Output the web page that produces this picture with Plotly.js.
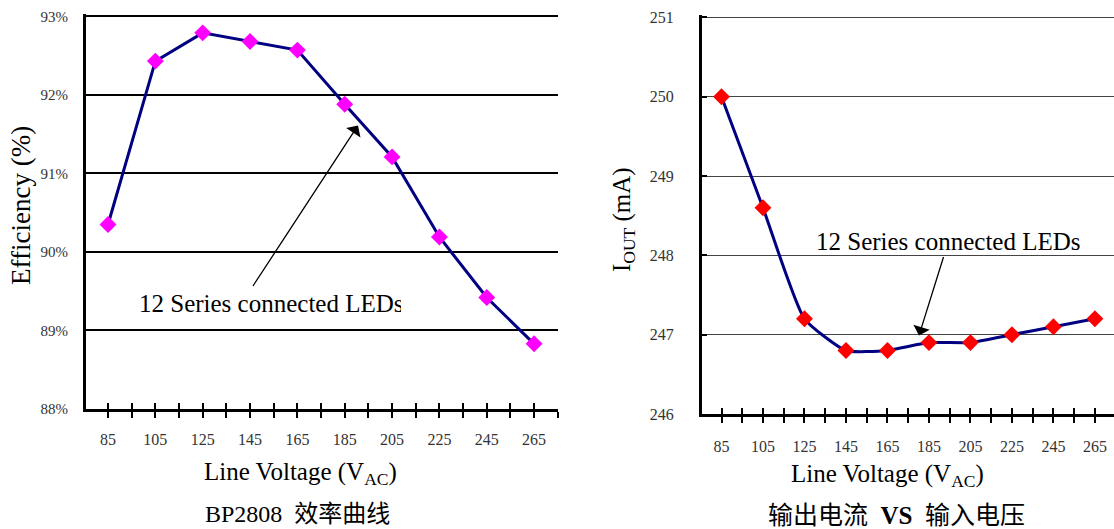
<!DOCTYPE html>
<html>
<head>
<meta charset="utf-8">
<script src="https://cdn.plot.ly/plotly-3.0.1.min.js"></script>
<style>html,body{margin:0;padding:0;background:#fff;}#chart{width:1114px;height:529px;}</style>
</head>
<body>
<div id="chart"></div>
<script>
// ---- data ----
const voltage = [85, 105, 125, 145, 165, 185, 205, 225, 245, 265];
const efficiency = [90.35, 92.43, 92.79, 92.68, 92.57, 91.88, 91.21, 90.19, 89.42, 88.83];
const ioutMA = [250.0, 248.6, 247.2, 246.8, 246.8, 246.9, 246.9, 247.0, 247.1, 247.2];
const xTickVals = [85, 105, 125, 145, 165, 185, 205, 225, 245, 265];
const xTickText = ['85', '105', '125', '145', '165', '185', '205', '225', '245', '265'];
const xMinorVals = [95, 115, 135, 155, 175, 195, 215, 235, 255, 275];
const effTickVals = [88, 89, 90, 91, 92, 93];
const effTickText = ['88%', '89%', '90%', '91%', '92%', '93%'];
const ioutTickVals = [246, 247, 248, 249, 250, 251];
const ioutTickText = ['246', '247', '248', '249', '250', '251'];
const annText = '12 Series connected LEDs';
const xTitle = 'Line Voltage (V<sub>AC</sub>)';
const yTitleLeft = 'Efficiency (%)';
const yTitleRight = 'I<sub>OUT</sub> (mA)';
const captionLeft = 'BP2808&nbsp; 效率曲线';
const captionRight = '输出电流&nbsp; <b>VS</b>&nbsp; 输入电压';

const W = 1114, H = 529;
const px = x => x / W;
const py = y => 1 - y / H;
const serif = 'Liberation Serif, Times New Roman, Noto Sans CJK SC, serif';
const tickFont = {family: serif, size: 16, color: '#333'};

const xRangeL = [75.7, 275.1];
const xRangeR = [75.6, 274.2];

const traces = [
  {x: voltage, y: efficiency, xaxis: 'x', yaxis: 'y', type: 'scatter', mode: 'lines+markers',
   line: {color: '#000080', width: 3},
   marker: {symbol: 'diamond', size: 13, color: '#FF00FF'}},
  {x: voltage, y: ioutMA, xaxis: 'x2', yaxis: 'y2', type: 'scatter', mode: 'lines+markers',
   line: {color: '#000080', width: 3, shape: 'spline', smoothing: 0.5},
   marker: {symbol: 'diamond', size: 13, color: '#FF0000'}},
  {x: [], y: [], xaxis: 'x3', yaxis: 'y', type: 'scatter', mode: 'markers'},
  {x: [], y: [], xaxis: 'x4', yaxis: 'y2', type: 'scatter', mode: 'markers'}
];

function xAxis(extra, inside) {
  const t = inside ? 'inside' : 'outside';
  return Object.assign({
    tickmode: 'array', tickvals: xTickVals, ticktext: xTickText,
    showline: !inside, linecolor: '#000', linewidth: 3,
    ticks: t, ticklen: 6, tickwidth: 2, tickcolor: '#000',
    minor: {tickmode: 'array', tickvals: xMinorVals, ticks: t, ticklen: 6, tickwidth: 2, tickcolor: '#000', showgrid: false},
    showticklabels: !inside,
    showgrid: false, zeroline: false, tickfont: tickFont, fixedrange: true
  }, extra);
}

const layout = {
  width: W, height: H,
  margin: {l: 0, r: 0, t: 0, b: 0},
  paper_bgcolor: '#fff', plot_bgcolor: '#fff',
  showlegend: false,
  xaxis: xAxis({domain: [px(86), px(558)], range: xRangeL, anchor: 'y', ticklabelstandoff: 8}, false),
  xaxis3: xAxis({domain: [px(86), px(558)], range: xRangeL, anchor: 'y', overlaying: 'x'}, true),
  yaxis: {domain: [py(409), py(14)], range: [88, 93.03], anchor: 'x',
    tickmode: 'array', tickvals: effTickVals, ticktext: effTickText,
    showline: true, linecolor: '#000', linewidth: 3,
    ticks: 'inside', ticklen: 5, tickwidth: 2, tickcolor: '#000',
    showgrid: true, gridcolor: '#000', gridwidth: 2, zeroline: false,
    tickfont: {family: serif, size: 15, color: '#333'}, ticklabelstandoff: 12, fixedrange: true},
  xaxis2: xAxis({domain: [px(702), 1], range: xRangeR, anchor: 'y2', ticklabelstandoff: 10}, false),
  xaxis4: xAxis({domain: [px(702), 1], range: xRangeR, anchor: 'y2', overlaying: 'x2'}, true),
  yaxis2: {domain: [py(414), py(15)], range: [246, 251.03], anchor: 'x2',
    tickmode: 'array', tickvals: ioutTickVals, ticktext: ioutTickText,
    showline: true, linecolor: '#000', linewidth: 3,
    ticks: 'inside', ticklen: 5, tickwidth: 2, tickcolor: '#000',
    showgrid: true, gridcolor: '#444', gridwidth: 1, zeroline: false,
    tickfont: {family: serif, size: 16, color: '#333'}, ticklabelstandoff: 22, fixedrange: true},
  annotations: [
    // left arrow + text
    {xref: 'x', yref: 'y', x: 190.6, y: 91.61, axref: 'pixel', ayref: 'pixel', ax: -106, ay: 162,
     showarrow: true, arrowhead: 1, arrowsize: 2.2, arrowwidth: 1.3, arrowcolor: '#000', text: ''},
    {xref: 'paper', yref: 'paper', x: px(137), y: py(303), xanchor: 'left', yanchor: 'middle',
     text: annText, showarrow: false, width: 262, align: 'left',
     font: {family: serif, size: 25, color: '#000'}},
    // right arrow + text
    {xref: 'x2', yref: 'y2', x: 180.2, y: 246.99, axref: 'pixel', ayref: 'pixel', ax: 25, ay: -80,
     showarrow: true, arrowhead: 1, arrowsize: 2.2, arrowwidth: 1.3, arrowcolor: '#000', text: ''},
    {xref: 'paper', yref: 'paper', x: px(814), y: py(241), xanchor: 'left', yanchor: 'middle',
     text: annText, showarrow: false, width: 264, align: 'left',
     font: {family: serif, size: 25, color: '#000'}},
    // axis titles
    {xref: 'paper', yref: 'paper', x: px(21), y: py(206), xanchor: 'center', yanchor: 'middle',
     text: yTitleLeft, textangle: -90, showarrow: false, font: {family: serif, size: 27, color: '#000'}},
    {xref: 'paper', yref: 'paper', x: px(623), y: py(220), xanchor: 'center', yanchor: 'middle',
     text: yTitleRight, textangle: -90, showarrow: false, font: {family: serif, size: 25, color: '#000'}},
    {xref: 'paper', yref: 'paper', x: px(300), y: py(473), xanchor: 'center', yanchor: 'middle',
     text: xTitle, showarrow: false, font: {family: serif, size: 25, color: '#000'}},
    {xref: 'paper', yref: 'paper', x: px(887), y: py(475), xanchor: 'center', yanchor: 'middle',
     text: xTitle, showarrow: false, font: {family: serif, size: 25, color: '#000'}},
    // captions
    {xref: 'paper', yref: 'paper', x: px(297), y: py(514), xanchor: 'center', yanchor: 'middle',
     text: captionLeft, showarrow: false, font: {family: serif, size: 24, color: '#000'}},
    {xref: 'paper', yref: 'paper', x: px(896), y: py(515), xanchor: 'center', yanchor: 'middle',
     text: captionRight, showarrow: false, font: {family: serif, size: 25, color: '#000'}}
  ]
};

Plotly.newPlot('chart', traces, layout, {displayModeBar: false, staticPlot: true});
</script>
</body>
</html>
